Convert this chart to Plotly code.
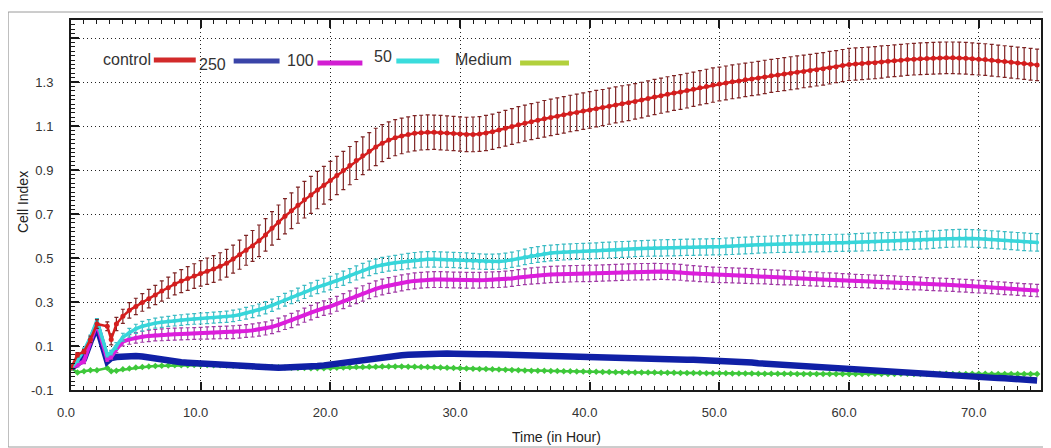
import plotly.graph_objects as go

# ---------------- data ----------------
series_names = ["control", "250", "100", "50", "Medium"]

t_early = [0.0, 0.5, 1.0, 1.5, 2.0, 2.8, 3.1]
t_regular = [3.5 + 0.5 * i for i in range(143)]   # instrument sampling grid, 3.5 h .. 74.5 h
time_h = t_early + t_regular

control = [0.0, 0.06, 0.075, 0.13, 0.2, 0.19, 0.13,
           0.2, 0.235, 0.262, 0.28, 0.298, 0.315, 0.332, 0.35, 0.365, 0.382, 0.395, 0.407, 0.418, 0.43,
           0.44, 0.45, 0.462, 0.476, 0.495, 0.515, 0.535, 0.555, 0.578, 0.605,
           0.635, 0.663, 0.69, 0.715, 0.74, 0.765, 0.787, 0.809, 0.831, 0.852,
           0.875, 0.898, 0.92, 0.943, 0.965, 0.985, 1.005, 1.022, 1.036, 1.047,
           1.055, 1.062, 1.067, 1.07, 1.072, 1.072, 1.07, 1.068, 1.066, 1.064,
           1.062, 1.062, 1.064, 1.068, 1.074, 1.082, 1.09, 1.098, 1.106, 1.113,
           1.12, 1.126, 1.133, 1.139, 1.145, 1.151, 1.157, 1.162, 1.168, 1.173,
           1.179, 1.184, 1.19, 1.196, 1.201, 1.206, 1.212, 1.218, 1.225, 1.232,
           1.238, 1.244, 1.25, 1.255, 1.261, 1.267, 1.274, 1.28, 1.286, 1.291,
           1.296, 1.301, 1.305, 1.31, 1.314, 1.318, 1.323, 1.328, 1.332, 1.336,
           1.34, 1.344, 1.348, 1.352, 1.356, 1.36, 1.365, 1.37, 1.375, 1.38,
           1.382, 1.384, 1.386, 1.388, 1.391, 1.394, 1.397, 1.399, 1.402, 1.404,
           1.406, 1.407, 1.408, 1.409, 1.41, 1.41, 1.409, 1.408, 1.406, 1.404,
           1.402, 1.399, 1.396, 1.393, 1.39, 1.387, 1.384, 1.381, 1.378]

control_err = [0.005, 0.01, 0.01, 0.015, 0.02, 0.02, 0.025,
               0.03, 0.032, 0.035, 0.037, 0.04, 0.042, 0.044, 0.046, 0.048, 0.05, 0.052, 0.054, 0.056, 0.058,
               0.06, 0.061, 0.062, 0.063, 0.064, 0.066, 0.068, 0.07, 0.072, 0.074,
               0.076, 0.078, 0.08, 0.081, 0.082, 0.083, 0.084, 0.085, 0.086, 0.087,
               0.087, 0.087, 0.087, 0.086, 0.086, 0.085, 0.085, 0.084, 0.083, 0.082,
               0.081, 0.08, 0.08, 0.079, 0.079, 0.078, 0.078, 0.078, 0.078, 0.078,
               0.078, 0.079, 0.079, 0.08, 0.08, 0.08, 0.081, 0.081, 0.082, 0.082,
               0.082, 0.082, 0.083, 0.083, 0.083, 0.083, 0.083, 0.083, 0.083, 0.083,
               0.083, 0.082, 0.082, 0.082, 0.082, 0.081, 0.081, 0.081, 0.08, 0.08,
               0.08, 0.08, 0.079, 0.079, 0.079, 0.078, 0.078, 0.078, 0.078, 0.077,
               0.077, 0.077, 0.077, 0.076, 0.076, 0.076, 0.076, 0.075, 0.075, 0.075,
               0.075, 0.075, 0.074, 0.074, 0.074, 0.074, 0.074, 0.073, 0.073, 0.073,
               0.073, 0.073, 0.073, 0.073, 0.073, 0.072, 0.072, 0.072, 0.072, 0.072,
               0.072, 0.072, 0.072, 0.072, 0.072, 0.072, 0.072, 0.072, 0.072, 0.072,
               0.072, 0.072, 0.072, 0.072, 0.072, 0.072, 0.072, 0.072, 0.072]

conc_250 = [0.0, 0.02, 0.04, 0.12, 0.19, 0.03, 0.045,
            0.05, 0.053, 0.055, 0.055, 0.052, 0.047, 0.041, 0.036, 0.032, 0.029, 0.026, 0.024, 0.022, 0.021,
            0.019, 0.017, 0.014, 0.011, 0.009, 0.007, 0.005, 0.003, 0.002, 0.001,
            0.001, 0.001, 0.002, 0.002, 0.003, 0.004, 0.006, 0.009, 0.012, 0.016,
            0.02, 0.024, 0.029, 0.034, 0.039, 0.044, 0.048, 0.051, 0.054, 0.056,
            0.058, 0.06, 0.062, 0.064, 0.066, 0.067, 0.067, 0.066, 0.065, 0.063,
            0.063, 0.063, 0.063, 0.063, 0.062, 0.061, 0.06, 0.058, 0.057, 0.056,
            0.055, 0.054, 0.053, 0.052, 0.051, 0.05, 0.05, 0.049, 0.048, 0.048,
            0.047, 0.046, 0.046, 0.045, 0.044, 0.044, 0.043, 0.042, 0.042, 0.041,
            0.041, 0.04, 0.039, 0.039, 0.038, 0.038, 0.037, 0.037, 0.036, 0.036,
            0.034, 0.032, 0.03, 0.027, 0.025, 0.022, 0.02, 0.017, 0.015, 0.013,
            0.011, 0.009, 0.007, 0.005, 0.004, 0.002, 0.0, -0.002, -0.004, -0.006,
            -0.008, -0.01, -0.012, -0.014, -0.016, -0.018, -0.02, -0.022, -0.024, -0.026,
            -0.028, -0.029, -0.031, -0.032, -0.034, -0.035, -0.037, -0.038, -0.04, -0.041,
            -0.043, -0.044, -0.046, -0.047, -0.049, -0.051, -0.053, -0.055, -0.057]

conc_100 = [0.0, 0.015, 0.03, 0.12, 0.2, 0.04, 0.05,
            0.085, 0.12, 0.13, 0.137, 0.142, 0.146, 0.149, 0.151, 0.153, 0.154, 0.155, 0.156, 0.157, 0.158,
            0.159, 0.16, 0.161, 0.162, 0.163, 0.165, 0.168, 0.171, 0.175, 0.18,
            0.187, 0.196, 0.206, 0.216, 0.228, 0.24, 0.252, 0.263, 0.272, 0.28,
            0.292, 0.304, 0.316, 0.328, 0.339, 0.35, 0.36, 0.368, 0.375, 0.381,
            0.387, 0.392, 0.396, 0.399, 0.401, 0.402, 0.402, 0.401, 0.4, 0.4,
            0.399, 0.399, 0.399, 0.4, 0.401, 0.402, 0.404, 0.407, 0.411, 0.415,
            0.418, 0.421, 0.423, 0.425, 0.426, 0.427, 0.428, 0.429, 0.43, 0.43,
            0.431, 0.432, 0.433, 0.434, 0.435, 0.436, 0.437, 0.438, 0.438, 0.439,
            0.439, 0.438, 0.437, 0.435, 0.432, 0.43, 0.428, 0.426, 0.424, 0.423,
            0.422, 0.421, 0.42, 0.419, 0.418, 0.416, 0.415, 0.413, 0.412, 0.411,
            0.41, 0.408, 0.407, 0.405, 0.404, 0.402, 0.401, 0.4, 0.398, 0.397,
            0.396, 0.395, 0.394, 0.392, 0.391, 0.39, 0.389, 0.387, 0.386, 0.385,
            0.384, 0.382, 0.381, 0.38, 0.378, 0.377, 0.375, 0.374, 0.372, 0.37,
            0.368, 0.366, 0.364, 0.362, 0.36, 0.358, 0.356, 0.354, 0.352]

conc_100_err = [0.0, 0.01, 0.01, 0.01, 0.01, 0.01, 0.01,
                0.015, 0.02, 0.022, 0.024, 0.025, 0.026, 0.026, 0.027, 0.027, 0.027, 0.027, 0.027, 0.027, 0.027,
                0.028, 0.028, 0.028, 0.028, 0.029, 0.029, 0.029, 0.03, 0.03, 0.03,
                0.031, 0.031, 0.031, 0.032, 0.032, 0.032, 0.033, 0.033, 0.033, 0.034,
                0.034, 0.034, 0.035, 0.035, 0.035, 0.035, 0.036, 0.036, 0.036, 0.036,
                0.036, 0.036, 0.036, 0.036, 0.036, 0.036, 0.036, 0.036, 0.036, 0.036,
                0.036, 0.036, 0.036, 0.036, 0.036, 0.036, 0.036, 0.036, 0.036, 0.036,
                0.037, 0.037, 0.037, 0.037, 0.037, 0.037, 0.037, 0.037, 0.037, 0.037,
                0.037, 0.037, 0.037, 0.037, 0.037, 0.037, 0.037, 0.037, 0.037, 0.037,
                0.036, 0.036, 0.036, 0.036, 0.036, 0.035, 0.035, 0.035, 0.035, 0.035,
                0.034, 0.034, 0.034, 0.034, 0.034, 0.033, 0.033, 0.033, 0.033, 0.033,
                0.032, 0.032, 0.032, 0.032, 0.032, 0.031, 0.031, 0.031, 0.031, 0.031,
                0.03, 0.03, 0.03, 0.03, 0.03, 0.03, 0.03, 0.03, 0.03, 0.03,
                0.029, 0.029, 0.029, 0.029, 0.029, 0.029, 0.029, 0.029, 0.029, 0.029,
                0.028, 0.028, 0.028, 0.028, 0.028, 0.028, 0.028, 0.028, 0.028]

conc_50 = [0.0, 0.035, 0.08, 0.14, 0.215, 0.06, 0.07,
           0.1, 0.14, 0.16, 0.178, 0.19, 0.198, 0.204, 0.208, 0.212, 0.215, 0.218, 0.221, 0.223, 0.225,
           0.227, 0.229, 0.231, 0.233, 0.237, 0.242, 0.249, 0.256, 0.264, 0.274,
           0.285, 0.297, 0.31, 0.322, 0.334, 0.346, 0.357, 0.368, 0.377, 0.386,
           0.397, 0.408, 0.42, 0.432, 0.443, 0.453, 0.462, 0.469, 0.474, 0.478,
           0.482, 0.486, 0.49, 0.493, 0.494, 0.494, 0.493, 0.492, 0.491, 0.49,
           0.488, 0.486, 0.484, 0.483, 0.483, 0.484, 0.487, 0.492, 0.498, 0.505,
           0.511, 0.516, 0.52, 0.523, 0.525, 0.527, 0.528, 0.53, 0.531, 0.532,
           0.533, 0.535, 0.536, 0.538, 0.539, 0.54, 0.542, 0.543, 0.544, 0.545,
           0.546, 0.547, 0.547, 0.548, 0.549, 0.549, 0.55, 0.55, 0.551, 0.551,
           0.553, 0.554, 0.556, 0.557, 0.558, 0.56, 0.561, 0.562, 0.563, 0.564,
           0.565, 0.565, 0.566, 0.567, 0.567, 0.568, 0.568, 0.569, 0.569, 0.57,
           0.571, 0.572, 0.573, 0.574, 0.575, 0.576, 0.577, 0.578, 0.578, 0.579,
           0.58, 0.582, 0.584, 0.586, 0.588, 0.589, 0.59, 0.59, 0.589, 0.588,
           0.586, 0.584, 0.582, 0.58, 0.578, 0.576, 0.574, 0.572, 0.571]

conc_50_err = [0.0, 0.01, 0.01, 0.01, 0.01, 0.01, 0.01,
               0.015, 0.018, 0.02, 0.021, 0.022, 0.022, 0.023, 0.023, 0.023, 0.024, 0.024, 0.024, 0.024, 0.025,
               0.025, 0.025, 0.025, 0.026, 0.026, 0.026, 0.027, 0.027, 0.027, 0.028,
               0.028, 0.028, 0.029, 0.029, 0.029, 0.03, 0.03, 0.03, 0.031, 0.031,
               0.031, 0.032, 0.032, 0.032, 0.033, 0.033, 0.033, 0.034, 0.034, 0.034,
               0.035, 0.035, 0.035, 0.035, 0.035, 0.035, 0.035, 0.035, 0.035, 0.035,
               0.035, 0.035, 0.035, 0.035, 0.035, 0.035, 0.035, 0.035, 0.035, 0.035,
               0.036, 0.036, 0.036, 0.036, 0.036, 0.036, 0.036, 0.036, 0.036, 0.036,
               0.036, 0.036, 0.036, 0.036, 0.036, 0.036, 0.036, 0.036, 0.036, 0.036,
               0.037, 0.037, 0.037, 0.037, 0.037, 0.037, 0.037, 0.037, 0.037, 0.037,
               0.038, 0.038, 0.038, 0.038, 0.038, 0.038, 0.038, 0.038, 0.038, 0.038,
               0.039, 0.039, 0.039, 0.039, 0.039, 0.039, 0.039, 0.039, 0.039, 0.039,
               0.04, 0.04, 0.04, 0.04, 0.04, 0.04, 0.04, 0.04, 0.04, 0.04,
               0.04, 0.04, 0.04, 0.04, 0.04, 0.04, 0.04, 0.04, 0.04, 0.04,
               0.04, 0.04, 0.04, 0.04, 0.04, 0.04, 0.04, 0.04, 0.04]

medium = [0.0, -0.02, -0.015, -0.01, -0.01, 0.0, -0.015,
          -0.012, -0.006, -0.002, 0.002, 0.005, 0.007, 0.009, 0.01, 0.011, 0.012, 0.013, 0.013, 0.014, 0.014,
          0.014, 0.013, 0.012, 0.011, 0.01, 0.009, 0.008, 0.007, 0.006, 0.005,
          0.004, 0.003, 0.002, 0.001, 0.0, 0.0, -0.001, -0.001, -0.001, 0.0,
          0.001, 0.002, 0.003, 0.004, 0.005, 0.006, 0.006, 0.007, 0.007, 0.007,
          0.007, 0.006, 0.006, 0.005, 0.004, 0.003, 0.002, 0.001, 0.0, -0.001,
          -0.002, -0.003, -0.004, -0.005, -0.006, -0.007, -0.008, -0.009, -0.01, -0.011,
          -0.012, -0.012, -0.013, -0.014, -0.014, -0.015, -0.015, -0.016, -0.016, -0.017,
          -0.017, -0.018, -0.018, -0.019, -0.019, -0.02, -0.02, -0.021, -0.021, -0.021,
          -0.022, -0.022, -0.022, -0.023, -0.023, -0.023, -0.023, -0.024, -0.024, -0.024,
          -0.024, -0.025, -0.025, -0.025, -0.025, -0.026, -0.026, -0.026, -0.026, -0.026,
          -0.026, -0.027, -0.027, -0.027, -0.027, -0.027, -0.027, -0.027, -0.027, -0.027,
          -0.027, -0.027, -0.026, -0.026, -0.027, -0.027, -0.027, -0.026, -0.026, -0.027,
          -0.027, -0.027, -0.026, -0.026, -0.026, -0.027, -0.027, -0.027, -0.026, -0.026,
          -0.026, -0.027, -0.027, -0.027, -0.027, -0.027, -0.027, -0.027, -0.027]

y_tick_values = [-0.1, 0.1, 0.3, 0.5, 0.7, 0.9, 1.1, 1.3, 1.5]
y_tick_labels = ["-0.1", "0.1", "0.3", "0.5", "0.7", "0.9", "1.1", "1.3", ""]

# ---------------- styling ----------------
FONT = "Liberation Sans, Arial, sans-serif"
OFF = 8                                  # page body margin of the html page
W, H = 1051 - OFF, 448 - OFF
PL, PR, PT, PB = 71, 1043, 20, 390       # plot area in page pixels


def px_x(px):
    return (px - PL) / (PR - PL)


def px_y(py):
    return (PB - py) / (PB - PT)


fig = go.Figure()

fig.add_trace(go.Scatter(
    x=time_h, y=medium, mode="lines+markers", name=series_names[4],
    line=dict(color="#3ec83a", width=2.5),
    marker=dict(symbol="diamond", size=5, color="#3ec83a"),
))
fig.add_trace(go.Scatter(
    x=time_h, y=conc_250, mode="lines", name=series_names[1],
    line=dict(color="#1020a6", width=6.5),
))
fig.add_trace(go.Scatter(
    x=time_h, y=conc_100, mode="lines+markers", name=series_names[2],
    line=dict(color="#dc1edc", width=4),
    marker=dict(size=4, color="#dc1edc"),
    error_y=dict(type="data", array=conc_100_err, visible=True,
                 color="#a13aa6", thickness=1.2, width=2),
))
fig.add_trace(go.Scatter(
    x=time_h, y=conc_50, mode="lines+markers", name=series_names[3],
    line=dict(color="#38d6da", width=3.5),
    marker=dict(size=4, color="#38d6da"),
    error_y=dict(type="data", array=conc_50_err, visible=True,
                 color="#3cbcc4", thickness=1.2, width=2),
))
fig.add_trace(go.Scatter(
    x=time_h, y=control, mode="lines+markers", name=series_names[0],
    line=dict(color="#d41e1e", width=2.5),
    marker=dict(size=5, color="#d41e1e"),
    error_y=dict(type="data", array=control_err, visible=True,
                 color="#7e2424", thickness=1.2, width=2),
))

axis_common = dict(
    showline=True, linecolor="#1a1a1a",
    ticks="inside", tickcolor="#1a1a1a",
    showgrid=True, griddash="1px,3px", gridcolor="#222222", gridwidth=1.3,
    zeroline=False,
    tickfont=dict(family=FONT, size=13, color="#333333"),
)

fig.update_xaxes(
    **axis_common,
    range=[0, 74.8], tickmode="linear", tick0=0, dtick=10, tickformat=".1f",
    ticklen=8, tickwidth=1.5, linewidth=1.5, mirror="ticks",
    ticklabelstandoff=10, ticklabelshift=-5,
    minor=dict(ticks="inside", dtick=1, ticklen=4, tickwidth=1, tickcolor="#1a1a1a", showgrid=False),
)
fig.update_yaxes(
    **axis_common,
    range=[-0.1, 1.582], tickmode="array", tickvals=y_tick_values, ticktext=y_tick_labels,
    ticklen=8, tickwidth=1.5, linewidth=2, mirror=True,
    ticklabelstandoff=13,
    minor=dict(ticks="inside", tickmode="linear", tick0=-0.1, dtick=0.02, ticklen=4,
               tickwidth=1, tickcolor="#1a1a1a", showgrid=False),
)

annotations = [
    dict(text="Time (in Hour)", x=0.5, y=px_y(437), xref="paper", yref="paper",
         showarrow=False, xanchor="center", yanchor="middle",
         font=dict(family=FONT, size=14, color="#222222")),
    dict(text="Cell Index", x=px_x(23), y=px_y(202), xref="paper", yref="paper",
         showarrow=False, textangle=-90, xanchor="center", yanchor="middle",
         font=dict(family=FONT, size=14, color="#222222")),
]

# custom legend: label followed by colour swatch
legend_layout = [
    # label, text centre x, text centre y, swatch x0, swatch x1, swatch y, colour
    (series_names[0], 127, 59, 154, 196, 60, "#d22a2a"),
    (series_names[1], 213, 64, 234, 280, 61, "#3a44a8"),
    (series_names[2], 301, 61, 318, 363, 63, "#d21ed2"),
    (series_names[3], 384, 56, 397, 440, 61, "#3adcdc"),
    (series_names[4], 484, 59, 521, 570, 63, "#b2d03c"),
]
shapes = []
for label, tx, ty, sx0, sx1, sy, col in legend_layout:
    annotations.append(dict(
        text=label, x=px_x(tx), y=px_y(ty), xref="paper", yref="paper",
        showarrow=False, xanchor="center", yanchor="middle",
        font=dict(family=FONT, size=16, color="#333333")))
    shapes.append(dict(
        type="line", xref="paper", yref="paper",
        x0=px_x(sx0), x1=px_x(sx1), y0=px_y(sy), y1=px_y(sy),
        line=dict(color=col, width=5)))

# outer frame of the picture
shapes.append(dict(type="rect", xref="paper", yref="paper",
                   x0=px_x(8), x1=px_x(1047), y0=px_y(12), y1=px_y(447),
                   line=dict(color="#9a9a9a", width=1), layer="below"))

fig.update_layout(
    width=W, height=H,
    margin=dict(l=PL - OFF, r=(W + OFF) - PR, t=PT - OFF, b=(H + OFF) - PB, pad=0),
    paper_bgcolor="white", plot_bgcolor="white",
    showlegend=False,
    annotations=annotations,
    shapes=shapes,
    font=dict(family=FONT),
)

fig.write_html("out.html")
